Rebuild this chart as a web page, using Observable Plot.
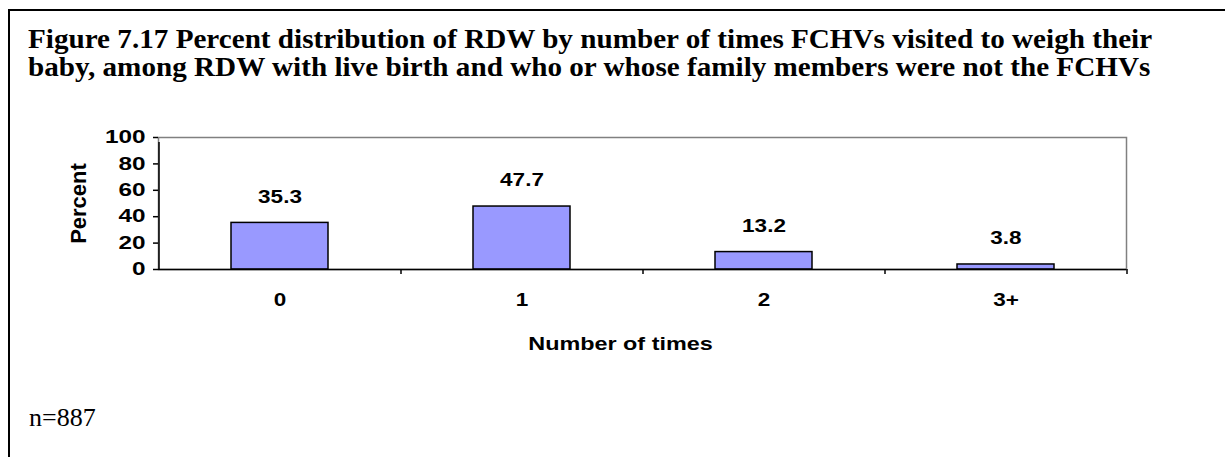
<!DOCTYPE html>
<html>
<head>
<meta charset="utf-8">
<script src="https://cdn.jsdelivr.net/npm/d3@7"></script>
<script src="https://cdn.jsdelivr.net/npm/@observablehq/plot@0.6"></script>
<style>
  html, body { margin: 0; padding: 0; background: #fff; width: 1225px; height: 457px; overflow: hidden; }
  #box { position: absolute; left: 8px; top: 9px; width: 1300px; height: 500px;
         border-left: 2px solid #000; border-top: 2px solid #000; }
  #title { position: absolute; left: 28px; top: 25px; margin: 0;
           font-family: "Liberation Serif", "Times New Roman", serif; font-weight: bold;
           font-size: 26.5px; line-height: 28px; color: #000; white-space: nowrap;
           transform: scaleX(1.1); transform-origin: left top; }
  #chart { position: absolute; left: 0; top: 100px; }
  #note { position: absolute; left: 29px; top: 403px; font-family: "Liberation Serif", "Times New Roman", serif;
          font-size: 26px; color: #000; }
</style>
</head>
<body>
<div id="box"></div>
<div id="title">Figure 7.17 Percent distribution of RDW by number of times FCHVs visited to weigh their<br>baby, among RDW with live birth and who or whose family members were not the FCHVs</div>
<div id="chart"></div>
<div id="note">n=887</div>
<script>
const categories = ["0", "1", "2", "3+"];
const percents = [35.3, 47.7, 13.2, 3.8];
const yTicks = [0, 20, 40, 60, 80, 100];
const xTitle = "Number of times";
const yTitle = "Percent";

const data = categories.map((c, i) => ({category: c, value: percents[i]}));

const W = 1225, H = 260;
const mLeft = 158, mRight = 99, mTop = 37, mBottom = 91;
const halfStep = (W - mLeft - mRight) / categories.length / 2;
const font = "Arial, 'Liberation Sans', sans-serif";

const chart = Plot.plot({
  width: W,
  height: H,
  marginLeft: mLeft,
  marginRight: mRight,
  marginTop: mTop,
  marginBottom: mBottom,
  style: {fontFamily: font, fontWeight: "bold", fontSize: "18px", color: "#000", background: "transparent"},
  x: {type: "band", domain: categories, paddingInner: 0.6, paddingOuter: 0.3},
  y: {domain: [0, 100]},
  marks: [
    Plot.frame({stroke: "#808080", strokeWidth: 1.5}),
    Plot.axisY({ticks: yTicks, tickSize: 5, tickPadding: 8, strokeWidth: 1.5, label: null, fontSize: 18, fontWeight: "bold"}),
    Plot.axisX({tickSize: 0, tickPadding: 24, label: null, fontSize: 18, fontWeight: "bold"}),
    Plot.barY(data, {x: "category", y: "value", fill: "#9999FF", stroke: "#000", strokeWidth: 1.5}),
    Plot.ruleY([0], {stroke: "#000", strokeWidth: 1.5}),
    // y axis line (left edge of first band)
    Plot.ruleX([categories[0]], {x: d => d, y1: 0, y2: 100, dx: -halfStep, stroke: "#000", strokeWidth: 1.5, insetBottom: -5}),
    // category boundary ticks
    Plot.ruleX(categories.slice(1), {x: d => d, y1: 0, y2: 0, dx: -halfStep, stroke: "#000", strokeWidth: 1.5, insetBottom: -5}),
    Plot.ruleX([categories[categories.length - 1]], {x: d => d, y1: 0, y2: 0, dx: halfStep, stroke: "#000", strokeWidth: 1.5, insetBottom: -5}),
    Plot.text(data, {x: "category", y: "value", text: d => d.value.toFixed(1), dy: -26, fontSize: 18, fontWeight: "bold", fill: "#000"}),
    Plot.text([xTitle], {frameAnchor: "bottom", text: d => d, dy: 80, dx: -22, fontSize: 18, fontWeight: "bold", fill: "#000", textAnchor: "middle"}),
    Plot.text([yTitle], {frameAnchor: "left", text: d => d, dx: -80, rotate: -90, fontSize: 22, fontWeight: "bold", fill: "#000", textAnchor: "middle"})
  ]
});

// widen the chart's (non-rotated) text horizontally, like the stretched original
chart.querySelectorAll("text").forEach(t => {
  const tr = t.getAttribute("transform") || "";
  if (tr.includes("rotate")) return;
  const g = t.closest("g[aria-label]");
  const label = g ? g.getAttribute("aria-label") : "";
  const s = label === "y-axis tick label" ? 1.35 : t.textContent === xTitle ? 1.3 : 1.25;
  const x = +(t.getAttribute("x") || 0);
  t.setAttribute("transform", `${tr} translate(${x},0) scale(${s},1) translate(${-x},0)`.trim());
});

document.getElementById("chart").appendChild(chart);
</script>
</body>
</html>
